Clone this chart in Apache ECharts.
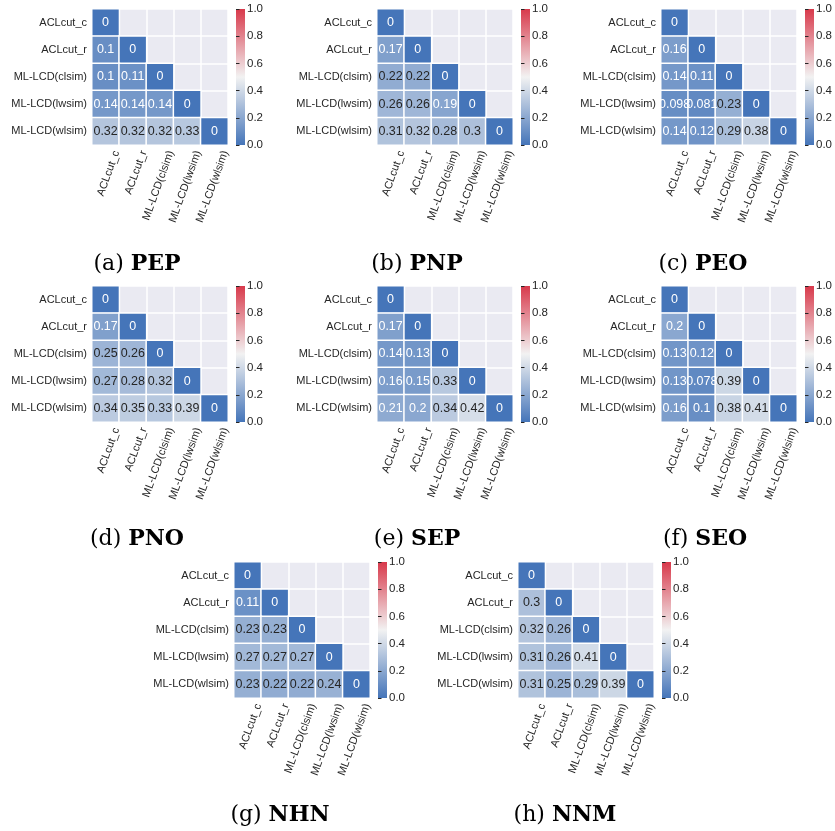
<!DOCTYPE html>
<html>
<head>
<meta charset="utf-8">
<script src="https://cdn.jsdelivr.net/npm/echarts@6/dist/echarts.min.js"></script>
<style>
html,body{margin:0;padding:0;background:#fff;}
#main{width:835px;height:831px;}
</style>
</head>
<body>
<div id="main"></div>
<script>
// ---- data ----
const categories = ['ACLcut_c', 'ACLcut_r', 'ML-LCD(clsim)', 'ML-LCD(lwsim)', 'ML-LCD(wlsim)'];
const panelNames = ['PEP', 'PNP', 'PEO', 'PNO', 'SEP', 'SEO', 'NHN', 'NNM'];
const panelLetters = ['a', 'b', 'c', 'd', 'e', 'f', 'g', 'h'];
const cbTicks = [0, 0.2, 0.4, 0.6, 0.8, 1.0];

// lower-triangle matrices (row i, columns 0..i)
const PEP = [[0], [0.1, 0], [0.1, 0.11, 0], [0.14, 0.14, 0.14, 0], [0.32, 0.32, 0.32, 0.33, 0]];
const PNP = [[0], [0.17, 0], [0.22, 0.22, 0], [0.26, 0.26, 0.19, 0], [0.31, 0.32, 0.28, 0.3, 0]];
const PEO = [[0], [0.16, 0], [0.14, 0.11, 0], [0.098, 0.081, 0.23, 0], [0.14, 0.12, 0.29, 0.38, 0]];
const PNO = [[0], [0.17, 0], [0.25, 0.26, 0], [0.27, 0.28, 0.32, 0], [0.34, 0.35, 0.33, 0.39, 0]];
const SEP = [[0], [0.17, 0], [0.14, 0.13, 0], [0.16, 0.15, 0.33, 0], [0.21, 0.2, 0.34, 0.42, 0]];
const SEO = [[0], [0.2, 0], [0.13, 0.12, 0], [0.13, 0.078, 0.39, 0], [0.16, 0.1, 0.38, 0.41, 0]];
const NHN = [[0], [0.11, 0], [0.23, 0.23, 0], [0.27, 0.27, 0.27, 0], [0.23, 0.22, 0.22, 0.24, 0]];
const NNM = [[0], [0.3, 0], [0.32, 0.26, 0], [0.31, 0.26, 0.41, 0], [0.31, 0.25, 0.29, 0.39, 0]];
const matrices = [PEP, PNP, PEO, PNO, SEP, SEO, NHN, NNM];

// ---- layout / style ----
const cmap = ['#4575B9', '#F2F2F2', '#D8394B'];
const S = 136, CBW = 9, CBGAP = 8, XLAB_SHIFT = 11;
const pos = [[92, 9], [377, 9], [661, 9], [92, 286], [377, 286], [661, 286], [234, 562], [518, 562]];
const capPos = [[137, 264], [417, 264], [703, 264], [137, 539], [417, 539], [705, 539], [280, 815], [565, 815]];
const TXT = '#262626';
const SANS = 'Liberation Sans, Arial, sans-serif';
const SERIF = 'DejaVu Serif, serif';
const fmt = v => String(Number(v.toPrecision(2)));

const chart = echarts.init(document.getElementById('main'));
const grids = [], xAxes = [], yAxes = [], series = [], titles = [];

matrices.forEach((m, p) => {
  const [L, T] = pos[p];
  const g = grids.length;
  // heatmap grid
  grids.push({left: L, top: T, width: S, height: S, show: true, backgroundColor: '#EAEAF2', borderWidth: 0});
  xAxes.push({gridIndex: g, type: 'category', data: categories,
    axisLine: {show: false}, axisTick: {show: false}, axisLabel: {show: false},
    splitLine: {show: true, interval: 0, lineStyle: {color: '#ffffff', width: 1.5}}});
  yAxes.push({gridIndex: g, type: 'category', data: categories, inverse: true,
    axisLine: {show: false}, axisTick: {show: false},
    axisLabel: {interval: 0, fontSize: 11, color: TXT, margin: 5, fontFamily: SANS},
    splitLine: {show: true, interval: 0, lineStyle: {color: '#ffffff', width: 1.5}}});
  const data = [];
  m.forEach((row, i) => row.forEach((v, j) => {
    data.push({value: [j, i, v], label: {color: v < 0.215 ? '#ffffff' : TXT}});
  }));
  series.push({type: 'heatmap', xAxisIndex: g, yAxisIndex: g, data,
    label: {show: true, formatter: d => fmt(d.value[2]), fontSize: 12.5, fontFamily: SANS},
    itemStyle: {borderColor: '#ffffff', borderWidth: 1.5},
    emphasis: {disabled: true}});
  // x tick label grid (shifted like matplotlib centered rotated labels)
  grids.push({left: L + XLAB_SHIFT, top: T, width: S, height: S, show: false});
  xAxes.push({gridIndex: g + 1, type: 'category', data: categories,
    axisLine: {show: false}, axisTick: {show: false}, splitLine: {show: false},
    axisLabel: {interval: 0, rotate: 70, margin: 6, fontSize: 11, color: TXT, fontFamily: SANS}});
  yAxes.push({gridIndex: g + 1, type: 'value', show: false});
  // colorbar grid
  grids.push({left: L + S + CBGAP, top: T, width: CBW, height: S, show: true, borderWidth: 0,
    backgroundColor: new echarts.graphic.LinearGradient(0, 1, 0, 0, [
      {offset: 0, color: cmap[0]}, {offset: 0.5, color: cmap[1]}, {offset: 1, color: cmap[2]}])});
  xAxes.push({gridIndex: g + 2, type: 'value', show: false});
  yAxes.push({gridIndex: g + 2, type: 'value', min: cbTicks[0], max: cbTicks[cbTicks.length - 1], interval: 0.2,
    position: 'right', axisLine: {show: false},
    axisTick: {show: true, length: 3.5, lineStyle: {color: TXT}},
    axisLabel: {formatter: v => v.toFixed(1), fontSize: 11.5, color: TXT, margin: 2, fontFamily: SANS},
    splitLine: {show: false}});
  // caption
  titles.push({left: capPos[p][0], top: capPos[p][1], textAlign: 'center', textVerticalAlign: 'middle', padding: 0,
    text: '{n|(' + panelLetters[p] + ') }{b|' + panelNames[p] + '}',
    textStyle: {fontWeight: 'normal', rich: {
      n: {fontFamily: SERIF, fontSize: 22, fontWeight: 'normal', color: '#000'},
      b: {fontFamily: SERIF, fontSize: 22, fontWeight: 'bold', color: '#000'}}}});
});

chart.setOption({
  animation: false,
  backgroundColor: '#ffffff',
  title: titles,
  grid: grids,
  xAxis: xAxes,
  yAxis: yAxes,
  visualMap: {type: 'continuous', show: false, min: 0, max: 1,
    seriesIndex: series.map((s, i) => i), inRange: {color: cmap}},
  series: series
});
</script>
</body>
</html>
